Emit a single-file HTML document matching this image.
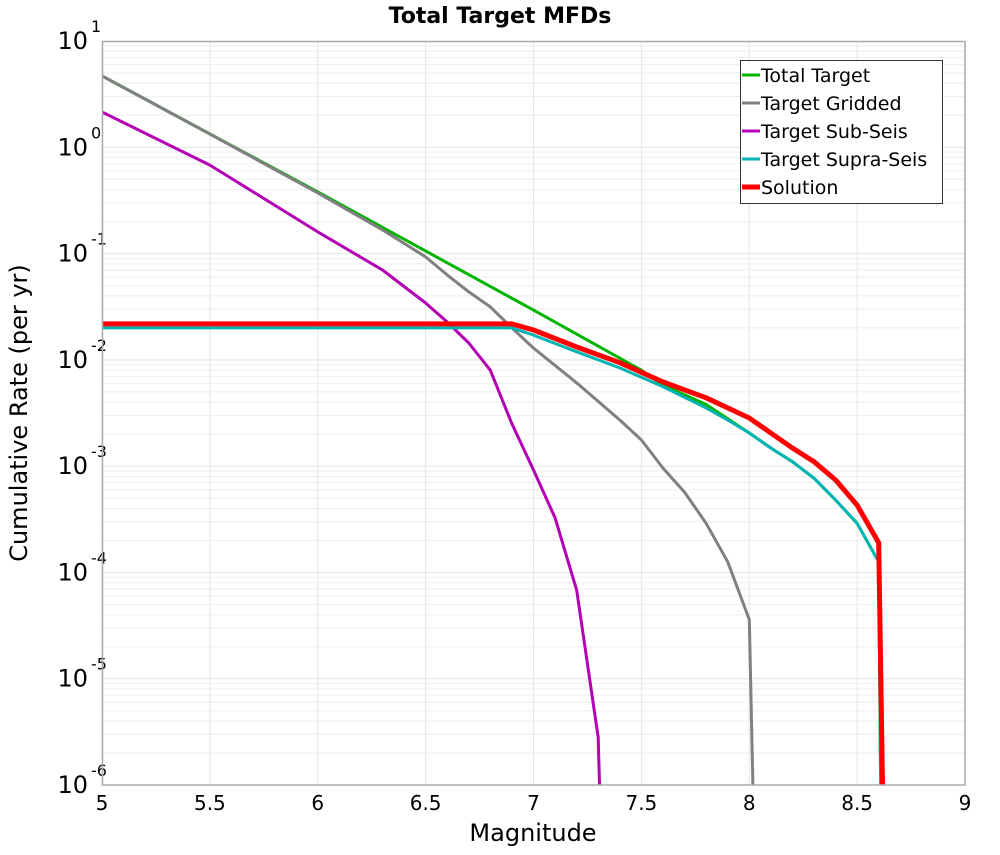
<!DOCTYPE html>
<html><head><meta charset="utf-8"><style>
body{margin:0;background:#fff;}
svg text{font-family:"DejaVu Sans","Liberation Sans",sans-serif;fill:#000;}
</style></head><body>
<svg id="chart" width="1000" height="850" xmlns="http://www.w3.org/2000/svg">
<text x="500" y="23" text-anchor="middle" font-size="22" font-weight="bold">Total Target MFDs</text>
<g id="grid"></g>
<g id="ticks"></g>
<g id="series"></g>
<rect x="102.5" y="41.5" width="862.5" height="743.5" fill="none" stroke="#aaa" stroke-width="1.5"/>
<text x="533" y="841" text-anchor="middle" font-size="24">Magnitude</text>
<text transform="translate(27,413) rotate(-90)" text-anchor="middle" font-size="24">Cumulative Rate (per yr)</text>
<g>
<rect x="740.5" y="60.5" width="202" height="143" fill="#fff" stroke="#333" stroke-width="1"/>
<g id="legend-items"></g>
</g>
</svg>
<script>
const xTicks=[5,5.5,6,6.5,7,7.5,8,8.5,9];
const xTickLabels=["5","5.5","6","6.5","7","7.5","8","8.5","9"];
const yDecades=[1,0,-1,-2,-3,-4,-5,-6];
const seriesNames=["Total Target","Target Gridded","Target Sub-Seis","Target Supra-Seis","Solution"];
const seriesColors=["#00b400","#808080","#b400b4","#00b4b4","#ff0000"];
const totalMag=[5.0,6.0,7.0,7.5,7.6,7.8,8.0,8.1,8.2,8.3,8.4,8.5,8.6,8.61];
const totalRate=[4.69,0.38,0.0294,0.0080,0.0058,0.0038,0.00205,0.00148,0.00110,0.00077,0.00048,0.00029,0.000126,5e-7];
const griddedMag=[5.0,5.5,6.0,6.3,6.5,6.6,6.7,6.8,6.9,7.0,7.2,7.4,7.5,7.6,7.7,7.8,7.9,8.0,8.02];
const griddedRate=[4.69,1.33,0.372,0.167,0.093,0.063,0.0436,0.0315,0.020,0.0129,0.00607,0.00272,0.00176,0.00096,0.00057,0.00029,0.000126,3.6e-5,5e-7];
const subMag=[5.0,5.5,6.0,6.3,6.5,6.6,6.7,6.8,6.9,7.0,7.1,7.2,7.3,7.31];
const subRate=[2.15,0.68,0.16,0.070,0.0343,0.0227,0.0144,0.0080,0.0025,0.00092,0.000326,6.8e-5,2.8e-6,5e-7];
const supraMag=[5.0,6.9,7.0,7.2,7.4,7.6,7.8,7.9,8.0,8.1,8.2,8.3,8.4,8.5,8.6,8.61];
const supraRate=[0.0200,0.0200,0.0171,0.0119,0.0084,0.0056,0.00353,0.00272,0.00205,0.00148,0.00110,0.00077,0.00048,0.00029,0.000126,5e-7];
const solMag=[5.0,6.9,7.0,7.2,7.4,7.6,7.8,7.9,8.0,8.1,8.2,8.3,8.4,8.5,8.6,8.62];
const solRate=[0.0218,0.0218,0.0191,0.0132,0.0094,0.0062,0.0044,0.00353,0.00284,0.00205,0.00148,0.00110,0.00074,0.00043,0.00019,5e-7];

const NS="http://www.w3.org/2000/svg";
const X0=102,X1=965,Y0=41,Y1=785,XMIN=5,XMAX=9,LMAX=1,LMIN=-6;
function xs(m){return X0+(m-XMIN)/(XMAX-XMIN)*(X1-X0);}
function ys(v){return Y0+(LMAX-Math.log10(v))/(LMAX-LMIN)*(Y1-Y0);}
function mk(tag,attrs,parent){const e=document.createElementNS(NS,tag);for(const k in attrs)e.setAttribute(k,attrs[k]);parent.appendChild(e);return e;}
const grid=document.getElementById('grid'),ticks=document.getElementById('ticks'),ser=document.getElementById('series');
for(let d=LMIN;d<LMAX;d++){for(let k=1;k<10;k++){const y=ys(k*Math.pow(10,d));
 const l=mk('line',{x1:X0,x2:X1,y1:y,y2:y,stroke:k===1?'#e2e2e2':'#eeeeee','stroke-width':1},grid);
 
 }}
xTicks.forEach((m,i)=>{const x=xs(m);
 const l=mk('line',{x1:x,x2:x,y1:Y0,y2:Y1,stroke:'#e6e6e6','stroke-width':1},grid);
 
 
 const t=mk('text',{x:x,y:810,'text-anchor':'middle','font-size':20},ticks);
 
 
 t.textContent=xTickLabels[i];});
yDecades.forEach(d=>{const y=ys(Math.pow(10,d));
 const t=mk('text',{x:88,y:y+8,'text-anchor':'end','font-size':24},ticks);
 
 
 t.textContent='10';
 const s=mk('text',{x:91,y:y-9,'text-anchor':'start','font-size':16},ticks);
 
 
 s.textContent=String(d);});
const clip=mk('clipPath',{id:'pc'},document.getElementById('chart'));
mk('rect',{x:X0,y:Y0,width:X1-X0,height:Y1-Y0},clip);
const data=[[totalMag,totalRate,3],[griddedMag,griddedRate,3],[subMag,subRate,3],[supraMag,supraRate,3],[solMag,solRate,5]];
const names=['series-total-target','series-target-gridded','series-target-sub-seis','series-target-supra-seis','series-solution'];
[0,1,2,3,4].forEach(i=>{const [m,r,w]=data[i];
 const pts=m.map((v,j)=>xs(v).toFixed(1)+','+ys(r[j]).toFixed(1)).join(' ');
 const p=mk('polyline',{points:pts,fill:'none',stroke:seriesColors[i],'stroke-width':w,'stroke-linejoin':'round','clip-path':'url(#pc)'},ser);
 
 });
const lg=document.getElementById('legend-items');
seriesNames.forEach((n,i)=>{const y=75+i*28;
 const l=mk('line',{x1:742,x2:760,y1:y,y2:y,stroke:seriesColors[i],'stroke-width':i===4?5:3},lg);
 
 
 const t=mk('text',{x:761,y:y+7,'font-size':19},lg);
 
 
 t.textContent=n;});
</script>
</body></html>
